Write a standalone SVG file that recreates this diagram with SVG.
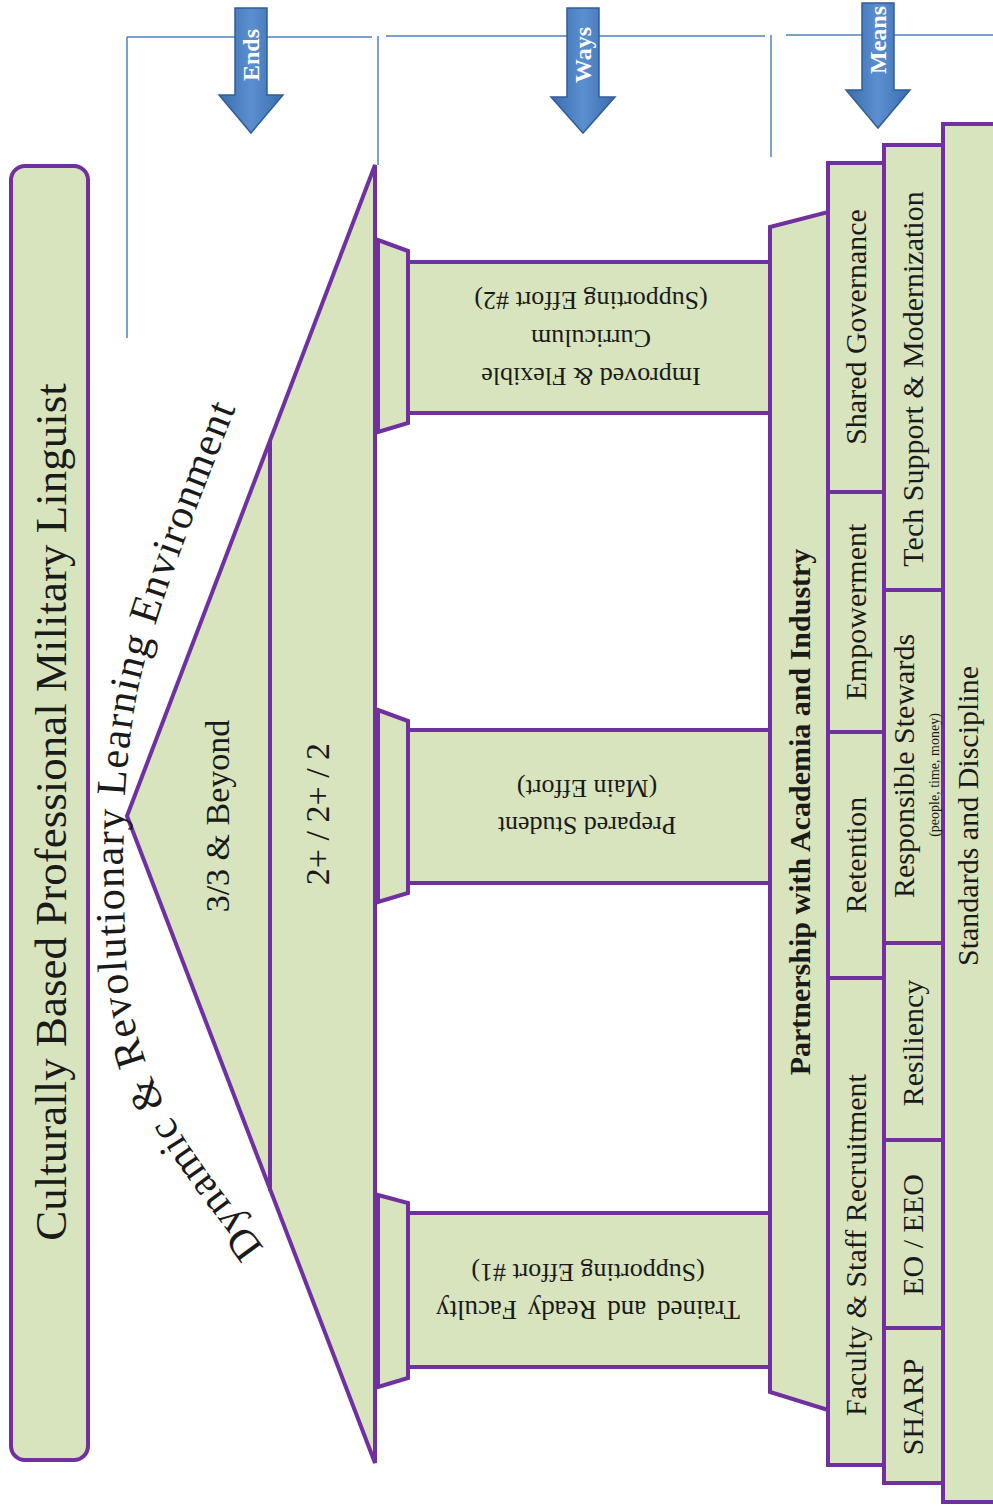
<svg xmlns="http://www.w3.org/2000/svg" width="993" height="1507" viewBox="0 0 993 1507">
<style>
.g{fill:#D7E4BD;stroke:#7030A0;stroke-width:4;stroke-linejoin:miter}
.t{font-family:"Liberation Serif","Times New Roman",serif;fill:#1a1a1a}
.guide{stroke:#4F81BD;stroke-width:1.5;fill:none}
.arr{fill:url(#ag);stroke:#2F5E98;stroke-width:1.5}
.al{font-family:"Liberation Serif","Times New Roman",serif;font-weight:bold;font-size:24px;fill:#ffffff}
</style>
<defs>
<linearGradient id="ag" x1="0" y1="0" x2="1" y2="0">
<stop offset="0" stop-color="#3B6DAE"/>
<stop offset="0.5" stop-color="#5B8FD0"/>
<stop offset="1" stop-color="#3B6DAE"/>
</linearGradient>
<path id="arc" d="M 264,1248 C 202,1162 132,1092 126,960 C 122,860 121,790 135,705 C 150,620 200,500 242,392"/>
</defs>
<rect width="993" height="1507" fill="#ffffff"/>

<g id="connectors">
<path class="guide" d="M127,37 H372 M127,37 V338"/>
<path class="guide" d="M386,36 H765 M378,36 V165"/>
<path class="guide" d="M786,35 H993 M771,35 V157"/>
</g>

<g id="title">
<rect class="g" x="11" y="166" width="77" height="1294" rx="14"/>
<text class="t" font-size="45" text-anchor="middle" transform="translate(51,812) rotate(-90)" y="15">Culturally Based Professional Military Linguist</text>
</g>

<g id="ends-arrow">
<path class="arr" d="M235,8 H267 V95 H283 L251,133 L219,95 H235 Z"/>
<text class="al" text-anchor="middle" transform="translate(251,55) rotate(-90)" y="8">Ends</text>
</g>
<g id="ways-arrow">
<path class="arr" d="M567,8 H599 V97 H615 L583,133 L551,97 H567 Z"/>
<text class="al" text-anchor="middle" transform="translate(583,55) rotate(-90)" y="8">Ways</text>
</g>
<g id="means-arrow">
<path class="arr" d="M862,3 H894 V90 H910 L878,128 L846,90 H862 Z"/>
<text class="al" text-anchor="middle" transform="translate(878,40) rotate(-90)" y="8">Means</text>
</g>

<g id="pediment">
<polygon class="g" points="127,816 375,165 375,1463"/>
<line x1="270" y1="441" x2="270" y2="1191" stroke="#7030A0" stroke-width="4"/>
<text class="t" font-size="34" text-anchor="middle" transform="translate(218,816) rotate(-90)" y="11">3/3 &amp; Beyond</text>
<text class="t" font-size="34" text-anchor="middle" transform="translate(318,814) rotate(-90)" y="11">2+ / 2+ / 2</text>
</g>

<g id="environment-label">
<text class="t" font-size="42"><textPath href="#arc" textLength="895" lengthAdjust="spacing">Dynamic &amp; Revolutionary Learning Environment</textPath></text>
</g>

<g id="pillar1">
<polygon class="g" points="378,240 408,251 408,423 378,432"/>
<rect class="g" x="408" y="262" width="362" height="151"/>
<g transform="translate(591,337.5) rotate(180)">
<text class="t" font-size="26" text-anchor="middle" y="-30">Improved &amp; Flexible</text>
<text class="t" font-size="26" text-anchor="middle" y="8">Curriculum</text>
<text class="t" font-size="26" text-anchor="middle" y="46">(Supporting Effort #2)</text>
</g>
</g>

<g id="pillar2">
<polygon class="g" points="378,710 408,721 408,893 378,902"/>
<rect class="g" x="408" y="730" width="362" height="153"/>
<g transform="translate(587,806.5) rotate(180)">
<text class="t" font-size="26" text-anchor="middle" y="-10">Prepared Student</text>
<text class="t" font-size="26" text-anchor="middle" y="27">(Main Effort)</text>
</g>
</g>

<g id="pillar3">
<polygon class="g" points="378,1195 408,1203 408,1378 378,1387"/>
<rect class="g" x="408" y="1213" width="362" height="154"/>
<g transform="translate(588,1290) rotate(180)">
<text class="t" font-size="27" text-anchor="middle" y="-11" word-spacing="4">Trained and Ready Faculty</text>
<text class="t" font-size="26" text-anchor="middle" y="26">(Supporting Effort #1)</text>
</g>
</g>

<g id="partnership">
<polygon class="g" points="770,227 828,212 828,1410 770,1392"/>
<text class="t" font-size="30" font-weight="bold" text-anchor="middle" transform="translate(800,812) rotate(-90)" y="10">Partnership with Academia and Industry</text>
</g>

<g id="standards">
<rect class="g" x="943" y="124" width="60" height="1378"/>
<text class="t" font-size="30" text-anchor="middle" transform="translate(968,816) rotate(-90)" y="10">Standards and Discipline</text>
</g>

<g id="shared-governance">
<rect class="g" x="828" y="163" width="56" height="329"/>
<text class="t" font-size="30" text-anchor="middle" transform="translate(856,327) rotate(-90)" y="10">Shared Governance</text>
</g>
<g id="empowerment">
<rect class="g" x="828" y="492" width="56" height="240"/>
<text class="t" font-size="30" text-anchor="middle" transform="translate(856,612) rotate(-90)" y="10">Empowerment</text>
</g>
<g id="retention">
<rect class="g" x="828" y="732" width="56" height="246"/>
<text class="t" font-size="30" text-anchor="middle" transform="translate(856,855) rotate(-90)" y="10">Retention</text>
</g>
<g id="recruitment">
<rect class="g" x="828" y="978" width="56" height="487"/>
<text class="t" font-size="30" text-anchor="middle" transform="translate(856,1245) rotate(-90)" y="10">Faculty &amp; Staff Recruitment</text>
</g>

<g id="tech-support">
<rect class="g" x="884" y="145" width="59" height="445"/>
<text class="t" font-size="30" text-anchor="middle" transform="translate(913,379) rotate(-90)" y="10">Tech Support &amp; Modernization</text>
</g>
<g id="stewards">
<rect class="g" x="884" y="590" width="59" height="353"/>
<text class="t" font-size="30" text-anchor="middle" transform="translate(904,766) rotate(-90)" y="10">Responsible Stewards</text>
<text class="t" font-size="14" text-anchor="middle" transform="translate(934,775) rotate(-90)" y="5">(people, time, money)</text>
</g>
<g id="resiliency">
<rect class="g" x="884" y="943" width="59" height="197"/>
<text class="t" font-size="30" text-anchor="middle" transform="translate(913,1043) rotate(-90)" y="10">Resiliency</text>
</g>
<g id="eo-eeo">
<rect class="g" x="884" y="1140" width="59" height="188"/>
<text class="t" font-size="30" text-anchor="middle" transform="translate(913,1235) rotate(-90)" y="10">EO / EEO</text>
</g>
<g id="sharp">
<rect class="g" x="884" y="1328" width="59" height="155"/>
<text class="t" font-size="30" text-anchor="middle" transform="translate(913,1407) rotate(-90)" y="10">SHARP</text>
</g>
</svg>
